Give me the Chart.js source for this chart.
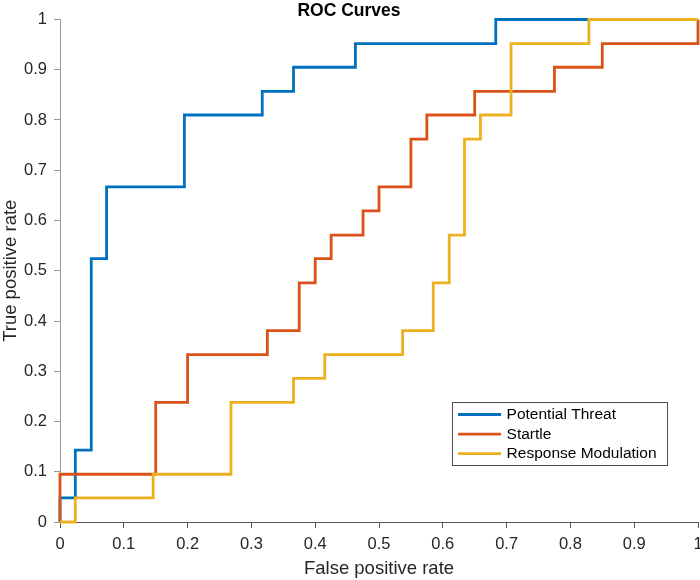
<!DOCTYPE html>
<html>
<head>
<meta charset="utf-8">
<title>ROC Curves</title>
<script src="https://cdn.jsdelivr.net/npm/chart.js@4.4.0/dist/chart.umd.min.js"></script>
<style>
  html, body { margin: 0; padding: 0; background: #fff; }
  #wrap { width: 700px; height: 580px; }
</style>
</head>
<body>
<div id="wrap"><canvas id="roc" width="700" height="580"></canvas></div>
<script>
// ROC vertices (false positive rate, true positive rate)
const threatFpr = [0, 0, 0.024, 0.024, 0.049, 0.049, 0.073, 0.073, 0.195, 0.195, 0.317, 0.317, 0.366, 0.366, 0.463, 0.463, 0.683, 0.683, 1];
const threatTpr = [0, 0.048, 0.048, 0.143, 0.143, 0.524, 0.524, 0.667, 0.667, 0.810, 0.810, 0.857, 0.857, 0.905, 0.905, 0.952, 0.952, 1, 1];

const startleFpr = [0, 0, 0.15, 0.15, 0.2, 0.2, 0.325, 0.325, 0.375, 0.375, 0.4, 0.4, 0.425, 0.425, 0.475, 0.475, 0.5, 0.5, 0.55, 0.55, 0.575, 0.575, 0.65, 0.65, 0.775, 0.775, 0.85, 0.85, 1, 1];
const startleTpr = [0, 0.095, 0.095, 0.238, 0.238, 0.333, 0.333, 0.381, 0.381, 0.476, 0.476, 0.524, 0.524, 0.571, 0.571, 0.619, 0.619, 0.667, 0.667, 0.762, 0.762, 0.810, 0.810, 0.857, 0.857, 0.905, 0.905, 0.952, 0.952, 1];

const modFpr = [0, 0.024, 0.024, 0.146, 0.146, 0.268, 0.268, 0.366, 0.366, 0.415, 0.415, 0.537, 0.537, 0.585, 0.585, 0.610, 0.610, 0.634, 0.634, 0.659, 0.659, 0.707, 0.707, 0.829, 0.829, 1];
const modTpr = [0, 0, 0.048, 0.048, 0.095, 0.095, 0.238, 0.238, 0.286, 0.286, 0.333, 0.333, 0.381, 0.381, 0.476, 0.476, 0.571, 0.571, 0.762, 0.762, 0.810, 0.810, 0.952, 0.952, 1, 1];

const seriesNames = ['Potential Threat', 'Startle', 'Response Modulation'];
const seriesColors = ['#0072BD', '#D95319', '#EDB120'];
const tickLabels = ['0', '0.1', '0.2', '0.3', '0.4', '0.5', '0.6', '0.7', '0.8', '0.9', '1'];

const FONT = "'Liberation Sans', Arial, Helvetica, sans-serif";

const toPoints = (xs, ys) => xs.map((x, i) => ({ x: x, y: ys[i] }));

const makeSet = (i, xs, ys) => ({
  label: seriesNames[i],
  data: toPoints(xs, ys),
  borderColor: seriesColors[i],
  backgroundColor: seriesColors[i],
  borderWidth: 2.8,
  pointRadius: 0,
  tension: 0,
  fill: false,
  clip: false,
  order: 3 - i // later series drawn on top, like matlab
});

// legend box inside the axes, bottom right
const boxLegend = {
  id: 'boxLegend',
  afterDatasetsDraw(chart) {
    const { ctx, chartArea } = chart;
    ctx.save();
    ctx.font = '15.5px ' + FONT;
    const maxW = Math.max(...seriesNames.map(n => ctx.measureText(n).width));
    const x2 = chartArea.right - 31.5;
    const x1 = x2 - (55 + maxW + 10);
    const y1 = chartArea.bottom - 120;
    const y2 = chartArea.bottom - 57;
    ctx.fillStyle = '#fff';
    ctx.fillRect(x1, y1, x2 - x1, y2 - y1);
    ctx.strokeStyle = '#4d4d4d';
    ctx.lineWidth = 1;
    ctx.strokeRect(Math.round(x1) + 0.5, Math.round(y1) + 0.5, Math.round(x2 - x1), Math.round(y2 - y1));
    seriesNames.forEach((name, i) => {
      const y = y1 + 12.5 + i * 19.6;
      ctx.strokeStyle = seriesColors[i];
      ctx.lineWidth = 2.8;
      ctx.beginPath();
      ctx.moveTo(x1 + 6.5, y);
      ctx.lineTo(x1 + 49.5, y);
      ctx.stroke();
      ctx.fillStyle = '#000';
      ctx.textBaseline = 'middle';
      ctx.textAlign = 'left';
      ctx.fillText(name, x1 + 55, y + 0.5);
    });
    ctx.restore();
  }
};

new Chart(document.getElementById('roc'), {
  type: 'line',
  data: {
    datasets: [
      makeSet(0, threatFpr, threatTpr),
      makeSet(1, startleFpr, startleTpr),
      makeSet(2, modFpr, modTpr)
    ]
  },
  options: {
    responsive: false,
    animation: false,
    layout: { padding: { left: 0, right: 2, top: 0, bottom: 0 } },
    plugins: {
      legend: { display: false },
      tooltip: { enabled: false },
      title: {
        display: true,
        text: 'ROC Curves',
        color: '#000',
        font: { family: FONT, size: 17.5, weight: 'bold', lineHeight: 1.0 },
        padding: { top: 2, bottom: 0 }
      }
    },
    scales: {
      x: {
        type: 'linear',
        min: 0,
        max: 1,
        afterFit: (s) => { s.height = 58; s.paddingLeft = 0; s.paddingRight = 0; },
        border: { display: true, color: '#555', width: 1 },
        grid: { display: true, drawOnChartArea: false, drawTicks: true, tickLength: 6, color: '#555' },
        ticks: {
          stepSize: 0.1,
          color: '#262626',
          padding: 7,
          maxRotation: 0,
          font: { family: FONT, size: 16.5 },
          callback: (v, i) => tickLabels[i]
        },
        title: {
          display: true,
          text: 'False positive rate',
          color: '#262626',
          padding: 0,
          font: { family: FONT, size: 18.5 }
        }
      },
      y: {
        type: 'linear',
        min: 0,
        max: 1,
        afterFit: (s) => { s.width = 60; },
        border: { display: true, color: '#999', width: 1 },
        grid: { display: true, drawOnChartArea: false, drawTicks: true, tickLength: 6, color: '#999' },
        ticks: {
          stepSize: 0.1,
          color: '#262626',
          padding: 7,
          font: { family: FONT, size: 16.5 },
          callback: (v, i) => tickLabels[i]
        },
        title: {
          display: true,
          text: 'True positive rate',
          color: '#262626',
          padding: 0,
          font: { family: FONT, size: 18.5 }
        }
      }
    }
  },
  plugins: [boxLegend]
});
</script>
</body>
</html>
